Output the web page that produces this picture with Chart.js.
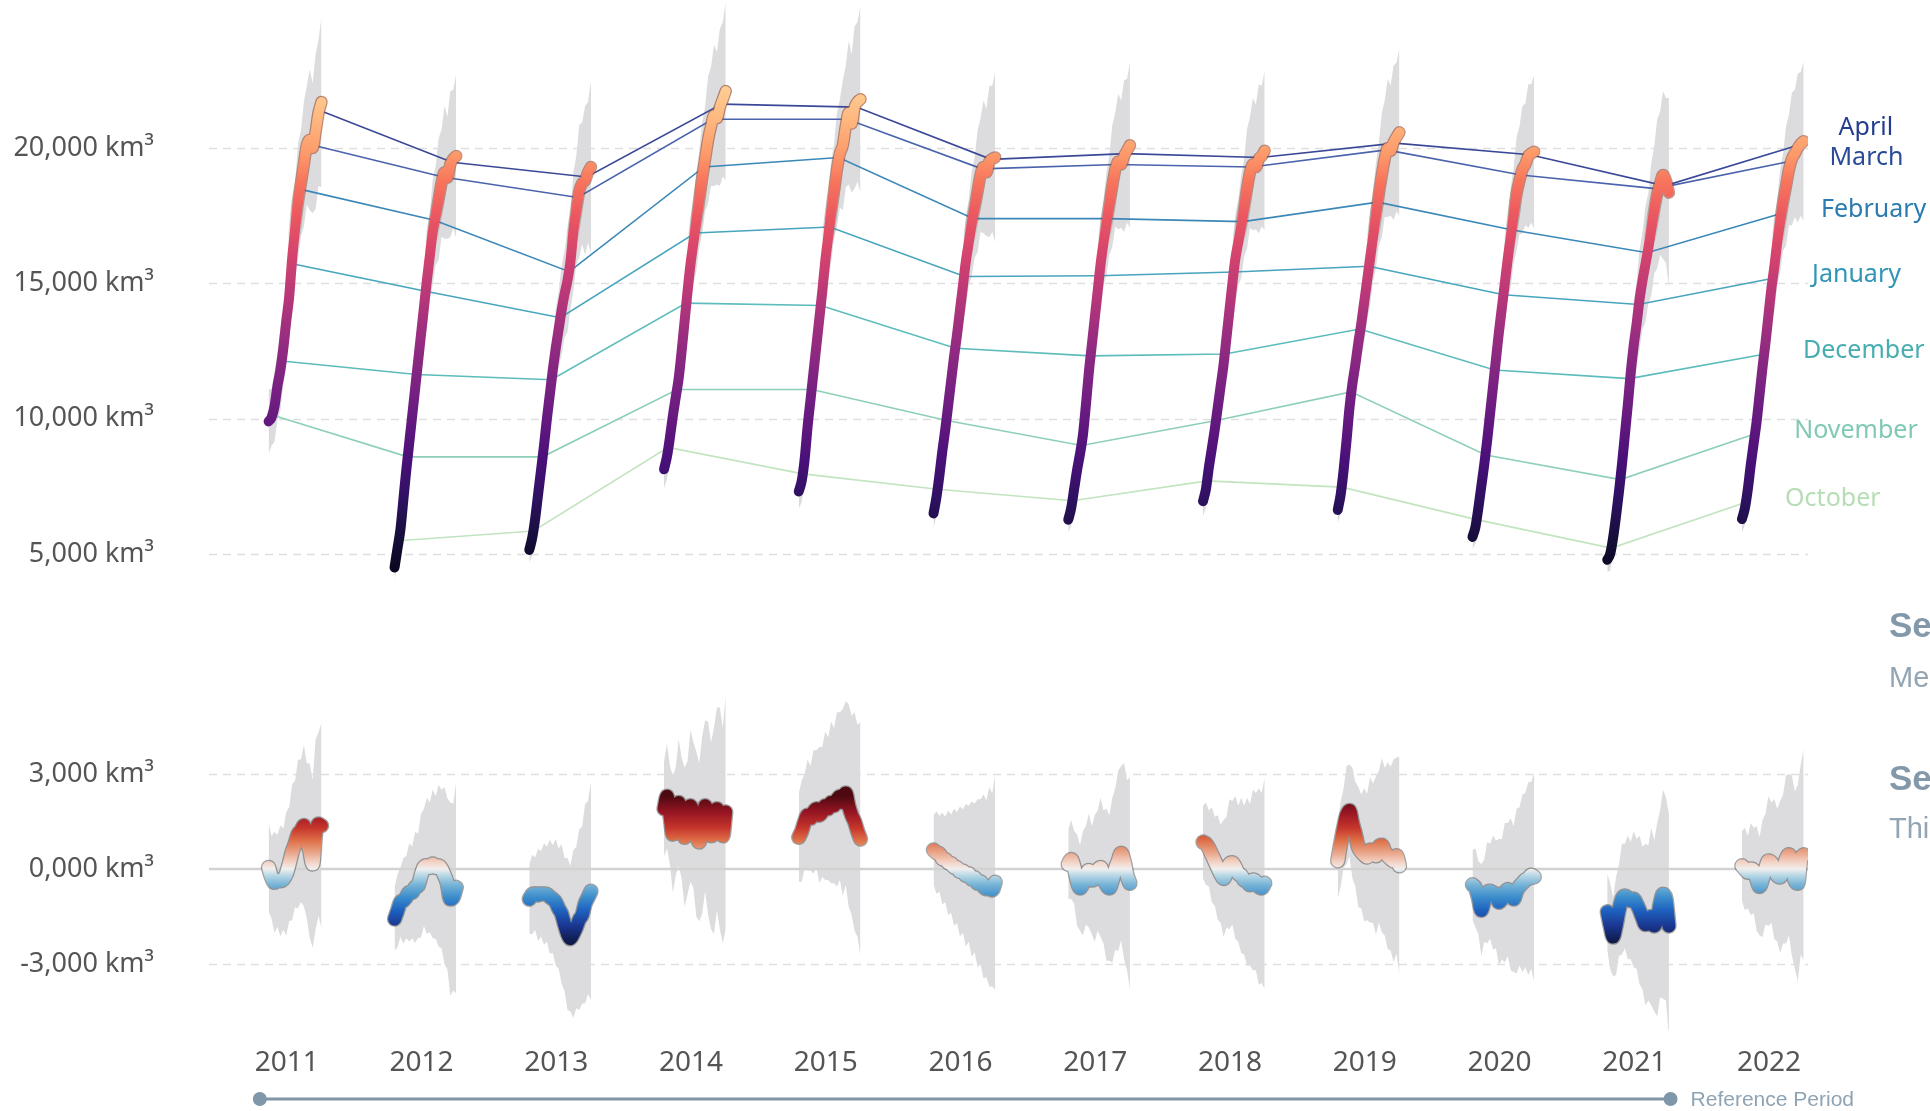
<!DOCTYPE html>
<html>
<head>
<meta charset="utf-8">
<title>Arctic sea ice volume</title>
<script src="https://cdn.jsdelivr.net/npm/chart.js@4.4.1/dist/chart.umd.min.js"></script>
<style>
  html, body { margin: 0; padding: 0; background: #fff; }
  body { width: 1930px; height: 1111px; overflow: hidden; position: relative; font-family: "Liberation Sans", Arial, sans-serif; }
  canvas { position: absolute; left: 0; }
  #volumeChart { top: -20px; }
  #anomalyChart { top: 600px; }
  .side { position: absolute; left: 1889px; white-space: nowrap; line-height: 1; }
  .side.head { font-weight: bold; font-size: 35px; color: #8399aa; }
  .side.sub { font-size: 29px; color: #93a5b3; }
</style>
</head>
<body>
<canvas id="volumeChart" width="1930" height="660"></canvas>
<canvas id="anomalyChart" width="1930" height="511"></canvas>
<div class="side head" style="top:607px">Sea Ice Volume</div>
<div class="side sub" style="top:663px">Measured by CryoSat from October to April</div>
<div class="side head" style="top:760px">Sea Ice Volume Anomaly</div>
<div class="side sub" style="top:814px">This compares each season with the reference period</div>
<script>
// seasons are labelled by the year they end in (Oct -> Apr)
const seasons = [2011, 2012, 2013, 2014, 2015, 2016, 2017, 2018, 2019, 2020, 2021, 2022];
// days since 1 October of each sample
const sampleDays = [0, 10, 20, 30, 40, 50, 60, 70, 80, 90, 100, 110, 120, 130, 140, 150, 160, 170, 180, 190, 200, 210];

// monthly means, one value per season, joined by the thin lines
const monthNames = ['October', 'November', 'December', 'January', 'February', 'March', 'April'];
const monthDays = [14, 45, 75, 106, 136, 165, 196];
const october  = [null, 5490, 5850, 8940, 7960, 7390, 6970, 7700, 7470, 6270, 5220, 6910];
const november = [10130, 8590, 8590, 11080, 11080, 9930, 9010, 9930, 10990, 8660, 7750, 9440];
const december = [12130, 11630, 11440, 14270, 14180, 12600, 12320, 12390, 13310, 11800, 11480, 12380];
const january  = [15730, 14710, 13730, 16860, 17080, 15250, 15280, 15420, 15630, 14580, 14220, 15190];
const february = [18480, 17330, 15430, 19300, 19650, 17390, 17390, 17280, 18000, 16970, 16130, 17590];
const march    = [20150, 18930, 18170, 21060, 21060, 19230, 19390, 19300, 19930, 19000, 18500, 19510];
const april    = [21420, 19470, 18930, 21620, 21510, 19580, 19790, 19650, 20180, 19750, 18600, 20120];

// sea ice volume (km³) at sampleDays, one row per season
const volume = [
  [null, null, null, 9900, 10050, 10450, 11200, 11800, 12600, 13600, 14500, 15900, 17000, 18000, 18700, 19400, 20100, 20300, 20000, 20600, 21300, 21700],
  [4500, 5200, 5900, 7000, 8100, 9100, 10100, 11100, 12100, 13100, 14100, 15100, 16000, 16900, 17500, 18100, 18700, 19100, 18900, 19400, 19600, 19700],
  [5150, 5600, 6300, 7200, 8100, 9000, 10000, 10900, 11800, 12600, 13300, 14000, 14600, 15100, 15800, 16900, 17700, 18400, 18700, 18800, 19100, 19300],
  [8130, 8600, 9300, 10100, 10800, 11500, 12500, 13600, 14700, 15700, 16500, 17300, 18100, 18900, 19600, 20300, 20800, 21200, 21100, 21500, 21800, 22100],
  [7310, 7700, 8500, 9700, 10700, 11700, 12700, 13700, 14700, 15800, 16700, 17600, 18400, 19200, 19800, 20100, 20800, 21300, 20900, 21500, 21700, 21800],
  [6500, 7100, 7900, 8800, 9600, 10500, 11400, 12300, 13100, 14000, 14900, 15800, 16500, 17200, 17800, 18400, 19000, 19300, 19100, 19500, 19600, 19650],
  [6270, 6700, 7400, 8100, 8700, 9400, 10500, 11700, 12700, 13700, 14700, 15700, 16500, 17200, 17900, 18600, 19200, 19500, 19400, 19700, 19900, 20100],
  [6950, 7400, 8200, 8900, 9600, 10400, 11200, 12000, 13000, 14000, 15000, 15900, 16500, 17100, 17800, 18500, 19100, 19400, 19300, 19600, 19700, 19900],
  [6630, 7200, 8100, 9200, 10400, 11300, 12000, 12800, 13500, 14300, 15100, 15900, 16700, 17500, 18300, 19000, 19600, 20000, 19900, 20200, 20400, 20580],
  [5630, 6000, 6700, 7500, 8300, 9200, 10200, 11200, 12200, 13200, 14100, 15000, 15900, 16700, 17500, 18300, 18800, 19200, 19400, 19700, 19800, 19860],
  [4790, 5000, 5600, 6400, 7300, 8300, 9400, 10500, 11700, 12700, 13500, 14400, 15100, 15700, 16300, 17000, 17700, 18300, 18700, 19000, 18800, 18350],
  [6290, 6700, 7400, 8300, 9100, 9900, 10900, 11900, 12800, 13800, 14800, 15600, 16500, 17300, 18000, 18600, 19200, 19600, 19800, 20000, 20150, 20250]
];
const volumeErr = [
  [null, null, null, 1200, 1050, 1300, 1250, 1500, 1350, 1700, 1550, 1900, 1750, 2150, 1950, 2300, 2200, 2600, 2400, 2850, 2700, 3150],
  [450, 650, 560, 900, 760, 1120, 1000, 1300, 1180, 1550, 1350, 1750, 1580, 1950, 1820, 2250, 1980, 2450, 2250, 2700, 2550, 3050],
  [500, 620, 650, 820, 850, 1050, 1000, 1250, 1200, 1450, 1400, 1650, 1600, 1900, 1750, 2200, 2000, 2450, 2250, 2750, 2600, 3200],
  [700, 820, 800, 1050, 950, 1250, 1150, 1450, 1350, 1650, 1550, 1850, 1800, 2050, 1950, 2350, 2200, 2600, 2450, 2900, 2850, 3300],
  [650, 780, 750, 980, 950, 1200, 1150, 1400, 1300, 1600, 1550, 1850, 1750, 2100, 2000, 2400, 2250, 2650, 2550, 3000, 2950, 3450],
  [550, 700, 650, 900, 820, 1080, 1000, 1250, 1200, 1480, 1400, 1700, 1600, 1950, 1850, 2250, 2100, 2450, 2350, 2800, 2700, 3150],
  [500, 620, 600, 820, 800, 1050, 950, 1250, 1150, 1500, 1350, 1700, 1600, 1900, 1850, 2250, 2100, 2500, 2350, 2800, 2650, 3050],
  [550, 680, 650, 850, 800, 1050, 950, 1250, 1150, 1450, 1350, 1650, 1600, 1900, 1800, 2200, 2050, 2450, 2300, 2750, 2600, 2950],
  [500, 680, 650, 880, 850, 1100, 1000, 1300, 1200, 1500, 1450, 1750, 1650, 1950, 1900, 2300, 2150, 2550, 2400, 2850, 2750, 3100],
  [450, 620, 600, 820, 780, 1030, 950, 1200, 1100, 1400, 1300, 1600, 1500, 1850, 1750, 2100, 2000, 2350, 2250, 2650, 2550, 2850],
  [450, 620, 600, 880, 850, 1100, 1050, 1350, 1300, 1600, 1550, 1850, 1800, 2150, 2050, 2450, 2350, 2750, 2650, 3100, 3050, 3500],
  [500, 620, 600, 830, 800, 1050, 980, 1250, 1150, 1450, 1350, 1650, 1600, 1900, 1800, 2200, 2050, 2450, 2350, 2750, 2650, 2950]
];

// anomaly against the reference period (km³)
const anomaly = [
  [null, null, null, 50, -260, -420, -370, -370, -320, -160, 160, 530, 790, 1100, 1210, 1370, 890, 580, 160, 1100, 1420, 1370],
  [-1580, -1320, -1050, -1000, -890, -740, -740, -580, -530, -210, 50, 100, 50, 160, 50, 100, 0, -210, -470, -950, -890, -580],
  [-950, -800, -780, -820, -780, -790, -800, -880, -950, -1050, -1250, -1420, -1750, -2050, -2200, -2050, -1850, -1600, -1450, -1100, -900, -700],
  [1900, 2300, 1700, 1100, 1500, 2100, 1600, 1000, 1300, 2000, 1700, 1100, 850, 1400, 2000, 1600, 1050, 1200, 1900, 1600, 1050, 1800],
  [1000, 1200, 1500, 1700, 1600, 1800, 1900, 1700, 1800, 2000, 1900, 2100, 2000, 2200, 2300, 2100, 2400, 2000, 1700, 1500, 1200, 950],
  [600, 520, 480, 330, 300, 200, 170, 60, 40, -80, -60, -200, -150, -320, -280, -450, -400, -550, -620, -560, -660, -420],
  [150, 300, 50, -350, -600, -450, -200, -50, -350, -300, -50, 50, -250, -500, -600, -350, 0, 250, 500, 250, -200, -450],
  [850, 800, 650, 450, 250, 50, -150, -300, -100, 150, 200, 50, -150, -200, -350, -400, -500, -350, -400, -550, -600, -450],
  [260, 800, 1300, 1700, 1850, 1450, 1100, 700, 550, 450, 380, 600, 500, 420, 700, 750, 550, 420, 330, 260, 420, 100],
  [-500, -600, -900, -1300, -1000, -750, -700, -750, -800, -1050, -950, -750, -650, -800, -950, -700, -550, -450, -350, -300, -200, -250],
  [-1350, -1800, -2150, -1800, -1300, -950, -850, -900, -1000, -950, -1100, -1300, -1550, -1750, -1700, -1500, -1800, -1600, -1100, -800, -950, -1800],
  [100, 0, -100, 0, -50, -300, -550, -300, 0, 250, 200, 0, -200, -250, 0, 300, 450, 100, -350, -450, 300, 450]
];
const anomalyErr = [
  [null, null, null, 1400, 1300, 1600, 1450, 1750, 1600, 1950, 1800, 2150, 2000, 2350, 2250, 2550, 2450, 2750, 2650, 3000, 2900, 3250],
  [1000, 1150, 1100, 1350, 1300, 1550, 1450, 1750, 1650, 1950, 1850, 2150, 2050, 2350, 2250, 2550, 2500, 2800, 2700, 3050, 2950, 3350],
  [1100, 1250, 1150, 1450, 1350, 1600, 1500, 1800, 1700, 2000, 1900, 2200, 2100, 2400, 2300, 2650, 2550, 2850, 2800, 3150, 3050, 3450],
  [1500, 1650, 1550, 1850, 1700, 2000, 1900, 2200, 2100, 2400, 2300, 2600, 2500, 2800, 2700, 3050, 2950, 3250, 3200, 3500, 3400, 3700],
  [1400, 1600, 1500, 1750, 1650, 1950, 1850, 2150, 2050, 2350, 2250, 2550, 2450, 2750, 2650, 2950, 2900, 3200, 3150, 3450, 3350, 3700],
  [1100, 1300, 1200, 1450, 1350, 1650, 1550, 1850, 1750, 2050, 1950, 2250, 2150, 2450, 2350, 2650, 2600, 2900, 2800, 3150, 3050, 3400],
  [1100, 1250, 1150, 1450, 1350, 1650, 1550, 1800, 1700, 2000, 1900, 2200, 2100, 2400, 2300, 2600, 2550, 2850, 2750, 3100, 3000, 3350],
  [1150, 1300, 1200, 1500, 1400, 1650, 1550, 1850, 1750, 2050, 1950, 2250, 2150, 2450, 2350, 2650, 2550, 2850, 2800, 3100, 3000, 3350],
  [1200, 1350, 1250, 1550, 1450, 1750, 1650, 1900, 1800, 2100, 2000, 2300, 2200, 2500, 2400, 2750, 2650, 2950, 2900, 3200, 3100, 3450],
  [1100, 1250, 1150, 1450, 1300, 1600, 1500, 1800, 1700, 2000, 1900, 2200, 2100, 2400, 2300, 2600, 2500, 2800, 2750, 3050, 2950, 3300],
  [1200, 1350, 1250, 1550, 1450, 1750, 1650, 1950, 1850, 2150, 2050, 2350, 2250, 2550, 2450, 2800, 2700, 3050, 2950, 3300, 3200, 3550],
  [1100, 1300, 1150, 1450, 1350, 1650, 1550, 1850, 1750, 2050, 1900, 2200, 2100, 2400, 2350, 2650, 2550, 2850, 2800, 3100, 3000, 3350]
];

const volumeTicks = [5000, 10000, 15000, 20000];
const volumeTickLabels = ['5,000 km³', '10,000 km³', '15,000 km³', '20,000 km³'];
const anomalyTicks = [-3000, 0, 3000];
const anomalyTickLabels = ['-3,000 km³', '0,000 km³', '3,000 km³'];
const referencePeriod = [2010.8, 2021.27];

// ---- styling ----
const X_MIN = 2010.423, X_MAX = 2022.29;
const BAND = '#dcdcde';
const FONT = '"Noto Sans", "DejaVu Sans", sans-serif';
const monthLineColors = ['#c2e4bf', '#8dd0b6', '#5cbcbb', '#47a5bd', '#3b88b8', '#4a63ad', '#3a4898'];
const monthLabelColors = ['#b6ddb4', '#80c9b4', '#47adb1', '#2f96b6', '#2b7bb0', '#2a4b97', '#233d8e'];

const magma = [
  [4000, '#050416'], [5500, '#150e38'], [7000, '#2d1160'], [8500, '#4a1079'],
  [10000, '#65197f'], [11500, '#7e2482'], [13000, '#982d80'], [14500, '#b73779'],
  [16000, '#d3436e'], [17500, '#eb5760'], [18800, '#f8765c'], [19800, '#fd9a6a'],
  [21000, '#feb67e'], [22500, '#fdd39a']
];
const magmaEdge = [
  [4000, 'rgba(0,0,0,0)'], [16500, 'rgba(0,0,0,0)'], [18500, 'rgba(150,70,50,0.55)'], [22500, 'rgba(160,95,60,0.75)']
];
const balance = [
  [-2300, '#0f1a4a'], [-1800, '#1a3690'], [-1300, '#1e62c0'], [-900, '#3a8ccb'],
  [-500, '#76b3d6'], [-200, '#b9d8e6'], [0, '#f0efee'], [200, '#f3d5c8'],
  [500, '#eaa88d'], [900, '#de6f47'], [1300, '#c5352b'], [1800, '#961523'], [2300, '#4e0910']
];

function seasonX(season, day) {
  return season - 0.2 + day / 211 * 0.46;
}

function seasonPoints(row, season, err, sign) {
  const pts = [];
  row.forEach((v, k) => {
    if (v === null) return;
    pts.push({ x: seasonX(season, sampleDays[k]), y: err ? v + sign * err[k] : v });
  });
  return pts;
}

function valueGradient(chart, stops) {
  const { ctx, chartArea, scales } = chart;
  if (!chartArea) return null;
  const v0 = stops[0][0], v1 = stops[stops.length - 1][0];
  const g = ctx.createLinearGradient(0, scales.y.getPixelForValue(v0), 0, scales.y.getPixelForValue(v1));
  stops.forEach(([v, c]) => g.addColorStop((v - v0) / (v1 - v0), c));
  return g;
}

// labels sit 55px left of the plot; the gap is an invisible tick mark so it
// does not add vertical padding to the plot area
function yScale(min, max, ticks, labels) {
  return {
    min, max,
    afterFit(scale) { scale.width = 209; },
    afterBuildTicks(scale) { scale.ticks = ticks.map(value => ({ value })); },
    grid: { display: true, drawOnChartArea: false, drawTicks: true, tickLength: 55, color: 'rgba(0,0,0,0)' },
    border: { display: false },
    ticks: {
      padding: 0,
      color: '#555',
      font: { family: FONT, size: 27 },
      callback: (value, i) => labels[i]
    }
  };
}

const dashedGrid = {
  id: 'dashedGrid',
  beforeDatasetsDraw(chart) {
    const { ctx, chartArea, scales } = chart;
    ctx.save();
    ctx.strokeStyle = '#dedede';
    ctx.lineWidth = 1.5;
    ctx.setLineDash([8, 6]);
    scales.y.ticks.forEach(t => {
      if (t.value === 0) return;
      const y = Math.round(scales.y.getPixelForValue(t.value)) + 0.5;
      ctx.beginPath();
      ctx.moveTo(chartArea.left, y);
      ctx.lineTo(chartArea.right, y);
      ctx.stroke();
    });
    ctx.restore();
  }
};

const monthLabels = {
  id: 'monthLabels',
  afterDatasetsDraw(chart) {
    const ctx = chart.ctx;
    ctx.save();
    ctx.font = '25px ' + FONT;
    ctx.textBaseline = 'middle';
    chart.data.datasets.forEach((ds, i) => {
      if (!ds.monthLabel) return;
      const pts = chart.getDatasetMeta(i).data;
      const last = pts[pts.length - 1];
      ctx.fillStyle = ds.labelColor;
      ctx.fillText(ds.monthLabel, last.x + 39, last.y - 3 + ds.labelShift);
    });
    ctx.restore();
  }
};

const referenceBar = {
  id: 'referenceBar',
  afterDraw(chart) {
    const { ctx, chartArea, scales } = chart;
    const y = chartArea.bottom + 69;
    const x0 = scales.x.getPixelForValue(referencePeriod[0]);
    const x1 = scales.x.getPixelForValue(referencePeriod[1]);
    ctx.save();
    ctx.strokeStyle = '#7f97a8';
    ctx.fillStyle = '#7f97a8';
    ctx.lineWidth = 3;
    ctx.beginPath();
    ctx.moveTo(x0, y);
    ctx.lineTo(x1, y);
    ctx.stroke();
    [x0, x1].forEach(x => {
      ctx.beginPath();
      ctx.arc(x, y, 7, 0, Math.PI * 2);
      ctx.fill();
    });
    ctx.fillStyle = '#8ea3b3';
    ctx.font = '21px "Liberation Sans", Arial, sans-serif';
    ctx.textBaseline = 'middle';
    ctx.fillText('Reference Period', x1 + 20, y + 1);
    ctx.restore();
  }
};

function seasonDatasets(values, errs, stops, edgeStops, width, edge) {
  const sets = [];
  seasons.forEach((season, s) => {
    const pts = seasonPoints(values[s], season);
    sets.push(
      { data: seasonPoints(values[s], season, errs[s], 1), fill: '+1', backgroundColor: BAND,
        borderWidth: 0, pointRadius: 0, tension: 0, order: 4 },
      { data: seasonPoints(values[s], season, errs[s], -1), fill: false,
        borderWidth: 0, pointRadius: 0, tension: 0, order: 4 },
      { data: pts, fill: false, pointRadius: 0, borderWidth: width + 2.5, cubicInterpolationMode: 'monotone',
        borderCapStyle: 'round', borderJoinStyle: 'round',
        borderColor: edgeStops ? c => valueGradient(c.chart, edgeStops) : edge, order: 1 },
      { data: pts, fill: false, pointRadius: 0, borderWidth: width, cubicInterpolationMode: 'monotone',
        borderCapStyle: 'round', borderJoinStyle: 'round',
        borderColor: c => valueGradient(c.chart, stops), order: 0 }
    );
  });
  return sets;
}

const common = {
  responsive: false,
  maintainAspectRatio: false,
  animation: false,
  events: [],
  plugins: { legend: { display: false }, tooltip: { enabled: false } }
};

function draw() {
  const volumeSets = seasonDatasets(volume, volumeErr, magma, magmaEdge, 10);
  [october, november, december, january, february, march, april].forEach((row, m) => {
    const pts = [];
    row.forEach((v, s) => {
      if (v !== null) pts.push({ x: seasonX(seasons[s], monthDays[m]), y: v });
    });
    volumeSets.push({
      data: pts, fill: false, pointRadius: 0, borderWidth: 1.6, tension: 0,
      borderColor: monthLineColors[m], order: 2,
      monthLabel: monthNames[m], labelColor: monthLabelColors[m], labelShift: m === 6 ? -14 : 0
    });
  });

  new Chart(document.getElementById('volumeChart'), {
    type: 'line',
    data: { datasets: volumeSets },
    options: {
      ...common,
      layout: { padding: { top: 20, bottom: 20, left: 0, right: 122 } },
      scales: {
        x: { type: 'linear', min: X_MIN, max: X_MAX, display: false },
        y: yScale(2562, 25467, volumeTicks, volumeTickLabels)
      }
    },
    plugins: [dashedGrid, monthLabels]
  });

  const anomalySets = seasonDatasets(anomaly, anomalyErr, balance, null, 13, 'rgba(85,85,85,0.55)');
  anomalySets.push({
    data: [{ x: X_MIN, y: 0 }, { x: X_MAX, y: 0 }], fill: false, pointRadius: 0,
    borderWidth: 2.5, borderColor: '#d2d2d2', order: 3
  });

  new Chart(document.getElementById('anomalyChart'), {
    type: 'line',
    data: { datasets: anomalySets },
    options: {
      ...common,
      layout: { padding: { top: 20, bottom: 0, left: 0, right: 122 } },
      scales: {
        x: {
          type: 'linear', min: X_MIN, max: X_MAX,
          afterFit(scale) { scale.height = 81; },
          afterBuildTicks(scale) { scale.ticks = seasons.map(value => ({ value })); },
          grid: { display: false, drawTicks: false },
          border: { display: false },
          ticks: {
            padding: 16, color: '#555', maxRotation: 0, autoSkip: false,
            font: { family: FONT, size: 28 },
            callback: v => String(v)
          }
        },
        y: yScale(-5084, 7863, anomalyTicks, anomalyTickLabels)
      }
    },
    plugins: [dashedGrid, referenceBar]
  });
}

document.fonts.load('26px "Noto Sans"').then(draw, draw);
</script>
</body>
</html>
